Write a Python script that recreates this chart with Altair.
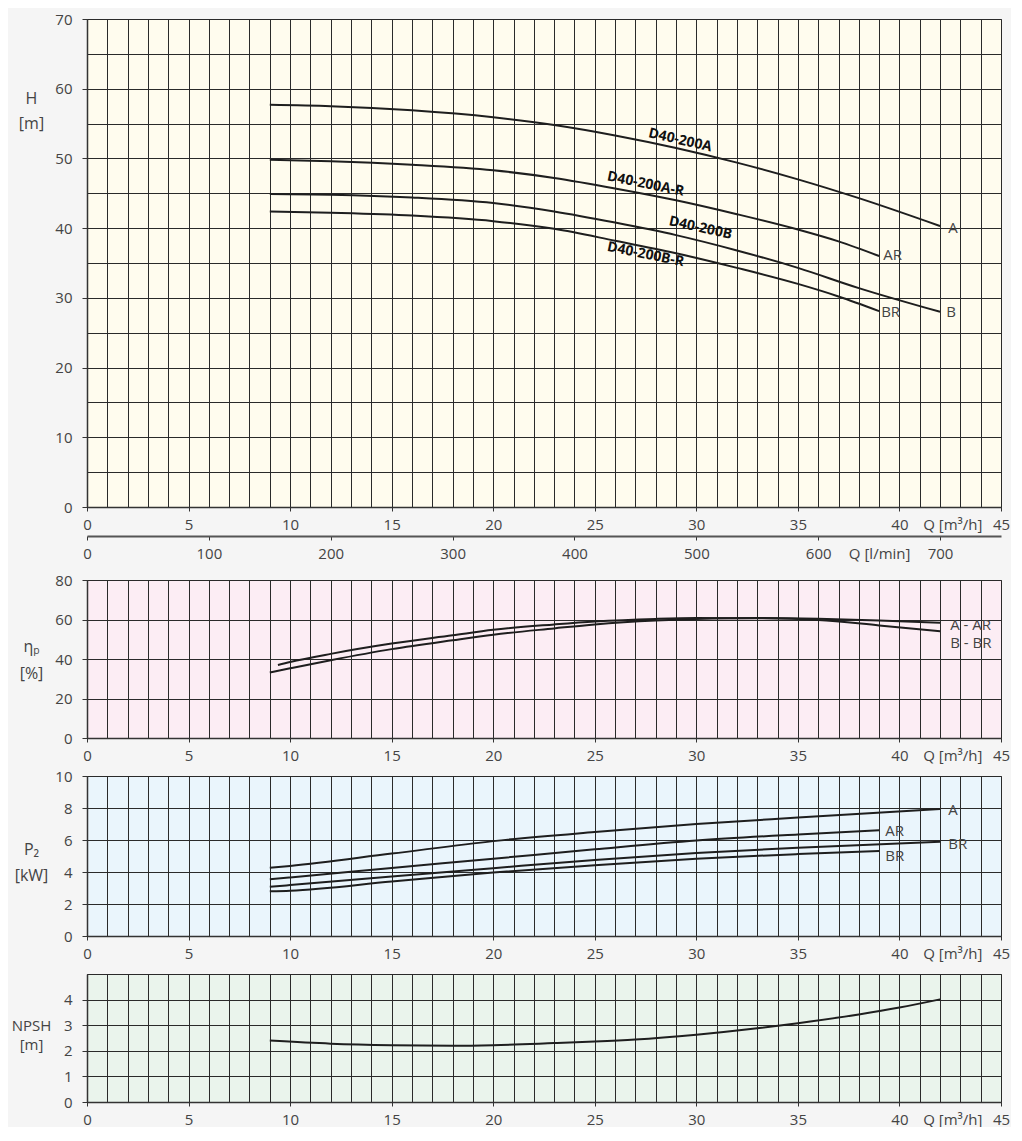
import altair as alt
import pandas as pd

# ---------------- data ----------------
# Head H [m] vs flow Q [m3/h]
A_Q = [9, 12, 16, 20, 23, 26, 29, 32, 35, 38, 42]
A_H = [57.7, 57.5, 56.9, 55.9, 54.8, 53.3, 51.5, 49.4, 47.0, 44.3, 40.3]
AR_Q = [9, 12, 16, 20, 23, 26, 29, 32, 35, 37, 39]
AR_H = [49.8, 49.6, 49.1, 48.3, 47.2, 45.7, 44.0, 42.0, 39.8, 38.1, 36.0]
B_Q = [9, 12, 16, 20, 23, 26, 29, 32, 35, 38, 42]
B_H = [44.9, 44.8, 44.4, 43.6, 42.4, 40.8, 39.0, 36.8, 34.3, 31.4, 28.0]
BR_Q = [9, 12, 16, 20, 23, 26, 29, 32, 35, 37, 39]
BR_H = [42.4, 42.2, 41.8, 41.0, 39.9, 38.2, 36.4, 34.3, 32.0, 30.2, 28.1]

H_END_TXT = ["A", "AR", "B", "BR"]
H_END_Q = [42.4, 39.2, 42.3, 39.1]
H_END_V = [40.0, 36.2, 27.9, 27.9]

MODEL_TXT = ["D40-200A", "D40-200A-R", "D40-200B", "D40-200B-R"]
MODEL_Q = [29.2, 27.5, 30.2, 27.5]
MODEL_H = [52.6, 46.3, 40.0, 36.2]

# Efficiency eta_p [%]
EA_Q = [9, 10, 12, 15, 18, 20, 23, 25, 28, 30, 33, 36, 39, 42]
EA_V = [33.2, 35.3, 39.4, 45.0, 49.5, 52.3, 55.5, 57.5, 59.5, 60.3, 60.8, 60.4, 59.5, 58.3]
EB_Q = [9.4, 10, 12, 15, 18, 20, 23, 25, 28, 30, 33, 36, 39, 42]
EB_V = [37.0, 38.5, 42.6, 47.8, 52.0, 54.8, 57.5, 59.0, 60.3, 60.7, 60.6, 59.8, 57.0, 54.0]
E_END_TXT = ["A - AR", "B - BR"]
E_END_Q = [42.5, 42.5]
E_END_V = [57.3, 48.2]

# Power P2 [kW]
PA_Q = [9, 10, 15, 20, 25, 30, 35, 42]
PA_V = [4.27, 4.38, 5.15, 5.93, 6.5, 7.0, 7.4, 7.93]
PAR_Q = [9, 10, 15, 20, 25, 30, 35, 39]
PAR_V = [3.55, 3.66, 4.25, 4.83, 5.42, 5.97, 6.35, 6.61]
PB_Q = [9, 10, 15, 20, 25, 30, 35, 42]
PB_V = [3.08, 3.18, 3.72, 4.24, 4.75, 5.19, 5.52, 5.89]
PBR_Q = [9, 10, 15, 20, 25, 30, 35, 39]
PBR_V = [2.79, 2.83, 3.4, 3.97, 4.42, 4.83, 5.12, 5.31]
P_END_TXT = ["A", "AR", "BR", "BR"]
P_END_Q = [42.4, 39.3, 42.4, 39.3]
P_END_V = [7.85, 6.55, 5.74, 5.0]

# NPSH [m]
N_Q = [9, 12, 15, 18, 20, 23, 25, 27, 30, 33, 35, 38, 40, 42]
N_V = [2.40, 2.28, 2.22, 2.20, 2.22, 2.30, 2.36, 2.44, 2.63, 2.88, 3.08, 3.42, 3.69, 4.01]

# l/min secondary axis ticks
LMIN_TICKS = [0, 100, 200, 300, 400, 500, 600, 700]

# ---------------- styling ----------------
W = 914
FONT = "Open Sans"
TXT = "#444444"
LINE = "#1e1e1e"
Q_TITLE_POS = 42.6
LMIN_TITLE_POS = 650


def curves_df(names, qs, vs):
    rows = []
    for n, q, v in zip(names, qs, vs):
        for a, b in zip(q, v):
            rows.append({"curve": n, "Q": a, "v": b})
    return pd.DataFrame(rows)


def x_axis():
    return alt.Axis(
        values=list(range(0, 46)) + [Q_TITLE_POS],
        title=None, grid=True,
        labelExpr=f"datum.value == {Q_TITLE_POS} ? 'Q [m³/h]' : (datum.value % 5 == 0 ? format(datum.value, 'd') : '')",
        tickOpacity={"condition": {"test": "datum.value % 5 != 0", "value": 0}, "value": 1},
        gridOpacity={"condition": {"test": f"datum.value == {Q_TITLE_POS}", "value": 0}, "value": 1},
        labelFlush=False, labelOverlap=False, tickSize=4, labelPadding=6,
    )


def y_axis(vals, step_lab, top_hide, title, ty, lh, tfs=16):
    test_hide = f"datum.value % {step_lab} != 0" + (f" || datum.value == {top_hide}" if top_hide is not None else "")
    return alt.Axis(
        values=vals, grid=True,
        labelExpr=f"({test_hide}) ? '' : format(datum.value, 'd')",
        tickOpacity={"condition": {"test": test_hide, "value": 0}, "value": 1},
        labelOverlap=False, labelFlush=False, tickSize=5, labelPadding=10,
        title=title, titleAngle=0, titleX=-56, titleY=ty, titleAlign="center",
        titleBaseline="middle", titleFont=FONT, titleFontSize=tfs, titleFontWeight="normal",
        titleColor=TXT, titleLineHeight=lh,
    )


def panel(df, ydom, yaxis, h, extra):
    xs = alt.Scale(domain=[0, 45], nice=False, zero=False)
    ys = alt.Scale(domain=ydom, nice=False, zero=False)
    xa = x_axis()
    lines = alt.Chart(df).mark_line(color=LINE, strokeWidth=2, interpolate="monotone").encode(
        x=alt.X("Q:Q", scale=xs, axis=xa),
        y=alt.Y("v:Q", scale=ys, axis=yaxis),
        detail="curve:N",
    )
    layers = [lines]
    for d, kw in extra:
        layers.append(
            alt.Chart(d).mark_text(**kw).encode(
                x=alt.X("Q:Q", scale=xs, axis=xa),
                y=alt.Y("v:Q", scale=ys, axis=yaxis),
                text="t:N",
            )
        )
    return alt.layer(*layers).properties(width=W, height=h)


end_kw = dict(align="left", baseline="middle", font=FONT, fontSize=15, color=TXT)

H1, H2, H3, H4 = 488, 158, 160, 128

# Panel 1: head
h_df = curves_df(["A", "AR", "B", "BR"], [A_Q, AR_Q, B_Q, BR_Q], [A_H, AR_H, B_H, BR_H])
h_end = pd.DataFrame({"t": H_END_TXT, "Q": H_END_Q, "v": H_END_V})
MODEL_ANGLES = [13, 11.5, 12.5, 11.5]
model_layers = []
for i, name in enumerate(MODEL_TXT):
    d = pd.DataFrame({"t": [name], "Q": [MODEL_Q[i]], "v": [MODEL_H[i]]})
    model_layers.append((d, dict(align="center", baseline="middle", font=FONT,
                                 fontSize=14, fontWeight="bold", color="#111111", angle=MODEL_ANGLES[i])))
p1_inner = panel(
    h_df, [0, 70],
    y_axis(list(range(0, 71, 5)), 10, None, ["H", "[m]"], 79, 25),
    H1, [(h_end, end_kw)] + model_layers,
)
lmin_layer = alt.Chart(pd.DataFrame({"lmin": LMIN_TICKS})).mark_point(opacity=0).encode(
    x=alt.X("lmin:Q", scale=alt.Scale(domain=[0, 750], nice=False, zero=False),
            axis=alt.Axis(orient="bottom", offset=29,
                          values=LMIN_TICKS + [LMIN_TITLE_POS], title=None, grid=False,
                          labelExpr=f"datum.value == {LMIN_TITLE_POS} ? 'Q [l/min]' : format(datum.value, 'd')",
                          tickOpacity={"condition": {"test": f"datum.value == {LMIN_TITLE_POS}", "value": 0}, "value": 1},
                          labelFlush=False, labelOverlap=False, tickSize=4, labelPadding=6,
                          domainWidth=2, domainColor="#555555")),
)
p1 = alt.layer(p1_inner, lmin_layer).resolve_scale(x="independent").properties(
    width=W, height=H1, view=alt.ViewBackground(fill="#fffcee", stroke="#555555"))

# Panel 2: efficiency
e_df = curves_df(["A-AR", "B-BR"], [EA_Q, EB_Q], [EA_V, EB_V])
e_end = pd.DataFrame({"t": E_END_TXT, "Q": E_END_Q, "v": E_END_V})
p2 = panel(e_df, [0, 80], y_axis([0, 20, 40, 60, 80], 20, None, ["ηₚ", "[%]"], 66, 27),
           H2, [(e_end, end_kw)]).properties(view=alt.ViewBackground(fill="#fcedf4", stroke="#555555"))

# Panel 3: power
p_df = curves_df(["A", "AR", "B", "BR"], [PA_Q, PAR_Q, PB_Q, PBR_Q], [PA_V, PAR_V, PB_V, PBR_V])
p_end = pd.DataFrame({"t": P_END_TXT, "Q": P_END_Q, "v": P_END_V})
p3 = panel(p_df, [0, 10], y_axis([0, 2, 4, 6, 8, 10], 2, None, ["P₂", "[kW]"], 73, 26),
           H3, [(p_end, end_kw)]).properties(view=alt.ViewBackground(fill="#eaf5fc", stroke="#555555"))

# Panel 4: NPSH
n_df = curves_df(["NPSH"], [N_Q], [N_V])
p4 = panel(n_df, [0, 5], y_axis([0, 1, 2, 3, 4, 5], 1, 5, ["NPSH", "[m]"], 51, 19, 15),
           H4, []).properties(view=alt.ViewBackground(fill="#eaf4ec", stroke="#555555"))

lower = alt.vconcat(p2, p3, p4, spacing=38, bounds="flush")
chart = alt.vconcat(p1, lower, spacing=73, bounds="flush").properties(
    padding={"left": 2, "top": 3, "right": 0, "bottom": -1},
    background="#f5f5f5",
).configure_axis(
    labelFont=FONT, labelFontSize=15, labelColor=TXT,
    domainColor="#333333", domainWidth=1.5,
    tickColor="#333333", tickWidth=1,
    gridColor="#2a2a2a", gridWidth=1,
).configure_view(stroke="#555555")

chart.save("out.html", embed_options={"renderer": "svg", "actions": False})
